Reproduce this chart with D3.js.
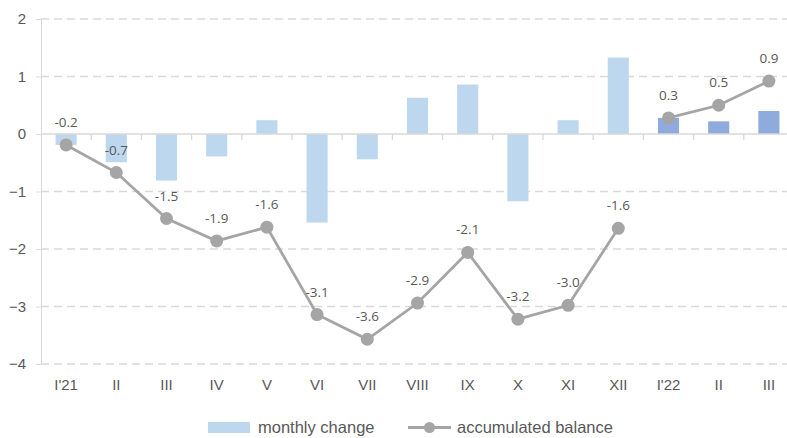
<!DOCTYPE html>
<html><head><meta charset="utf-8">
<script src="https://cdn.jsdelivr.net/npm/d3@7"></script>
<style>body{margin:0;background:#fff}svg{display:block}</style>
</head><body><svg id="c" width="787" height="438"></svg>
<script>
const categories = ["I'21","II","III","IV","V","VI","VII","VIII","IX","X","XI","XII","I'22","II ","III "];
const monthlyChange = [-0.19,-0.49,-0.81,-0.39,0.24,-1.54,-0.44,0.63,0.86,-1.17,0.24,1.33,0.28,0.22,0.40];
const accumulated = [-0.19,-0.67,-1.47,-1.86,-1.62,-3.14,-3.57,-2.94,-2.06,-3.22,-2.98,-1.64,0.28,0.50,0.92];
const accLabels = ["-0.2","-0.7","-1.5","-1.9","-1.6","-3.1","-3.6","-2.9","-2.1","-3.2","-3.0","-1.6","0.3","0.5","0.9"];
const segments = [[0,11],[12,14]];
const yTicks = [2,1,0,-1,-2,-3,-4];

const svg = d3.select("#c");
const pLeft = 41, pRight = 794, pTop = 19, pBottom = 364;
const x = d3.scaleBand().domain(categories).range([pLeft,pRight]).paddingInner(0.58).paddingOuter(0.29);
const xb = d3.scaleBand().domain(categories).range([pLeft,pRight]);
const y = d3.scaleLinear().domain([-4,2]).range([pBottom,pTop]);
const textCol = "#595959";
const narrow = "'Liberation Sans Narrow','Arial Narrow','Liberation Sans',Arial,sans-serif";

// gridlines
svg.append("g").selectAll("line").data(yTicks.filter(d=>d!==0)).join("line")
  .attr("x1",pLeft).attr("x2",787).attr("y1",d=>y(d)).attr("y2",d=>y(d))
  .attr("stroke","#d9d9d9").attr("stroke-width",1.3).attr("stroke-dasharray","8,5");
// y axis
const ya = d3.axisLeft(y).tickValues(yTicks).tickSize(5).tickFormat(d3.format("d"));
const gy = svg.append("g").attr("transform",`translate(${pLeft},0)`).call(ya);
gy.select(".domain").attr("stroke","#d9d9d9");
gy.selectAll(".tick line").attr("stroke","#d9d9d9");
gy.selectAll(".tick text").attr("fill",textCol).attr("font-family","'Liberation Sans',Arial,sans-serif").attr("font-size",15).attr("x",-15);

// bars
svg.append("g").selectAll("rect").data(monthlyChange).join("rect")
  .attr("x",(d,i)=>x(categories[i])).attr("width",x.bandwidth())
  .attr("y",d=>y(Math.max(0,d))).attr("height",d=>Math.abs(y(d)-y(0)))
  .attr("fill",(d,i)=>i>=12?"#8faadc":"#bdd7ee");

// zero line + category ticks
svg.append("line").attr("x1",pLeft).attr("x2",787).attr("y1",y(0)).attr("y2",y(0)).attr("stroke","#d9d9d9").attr("stroke-width",1.3);
svg.append("g").selectAll("line").data(categories.slice(1)).join("line")
  .attr("x1",d=>xb(d)).attr("x2",d=>xb(d)).attr("y1",y(0)).attr("y2",y(0)+6).attr("stroke","#d9d9d9").attr("stroke-width",1.3);

// category labels
svg.append("g").selectAll("text").data(categories).join("text")
  .attr("x",d=>xb(d)+xb.bandwidth()/2).attr("y",390).attr("text-anchor","middle")
  .attr("fill",textCol).attr("font-family",narrow).attr("font-size",15)
  .text(d=>d.trim());

// line
const cx = i => xb(categories[i]) + xb.bandwidth()/2;
const line = d3.line().x(i=>cx(i)).y(i=>y(accumulated[i]));
segments.forEach(([a,b])=>{
  svg.append("path").datum(d3.range(a,b+1)).attr("d",line).attr("fill","none").attr("stroke","#a5a5a5").attr("stroke-width",2.8);
});
svg.append("g").selectAll("circle").data(accumulated).join("circle")
  .attr("cx",(d,i)=>cx(i)).attr("cy",d=>y(d)).attr("r",6.5).attr("fill","#a5a5a5");
svg.append("g").selectAll("text").data(accLabels).join("text")
  .attr("x",(d,i)=>cx(i)).attr("y",(d,i)=>y(accumulated[i])-18).attr("text-anchor","middle")
  .attr("fill",textCol).attr("font-family","'Open Sans','DejaVu Sans',sans-serif").attr("font-size",13.5)
  .text(d=>d);

// legend
const lg = svg.append("g");
lg.append("rect").attr("x",208).attr("y",422).attr("width",42).attr("height",11).attr("fill","#bdd7ee");
lg.append("text").attr("x",258).attr("y",433).attr("fill",textCol).attr("font-family",narrow).attr("font-size",16.5).text("monthly change");
lg.append("line").attr("x1",408).attr("x2",451).attr("y1",427.5).attr("y2",427.5).attr("stroke","#a5a5a5").attr("stroke-width",2.8);
lg.append("circle").attr("cx",429.5).attr("cy",427.5).attr("r",5.5).attr("fill","#a5a5a5");
lg.append("text").attr("x",457).attr("y",433).attr("fill",textCol).attr("font-family",narrow).attr("font-size",16.5).text("accumulated balance");
</script></body></html>
